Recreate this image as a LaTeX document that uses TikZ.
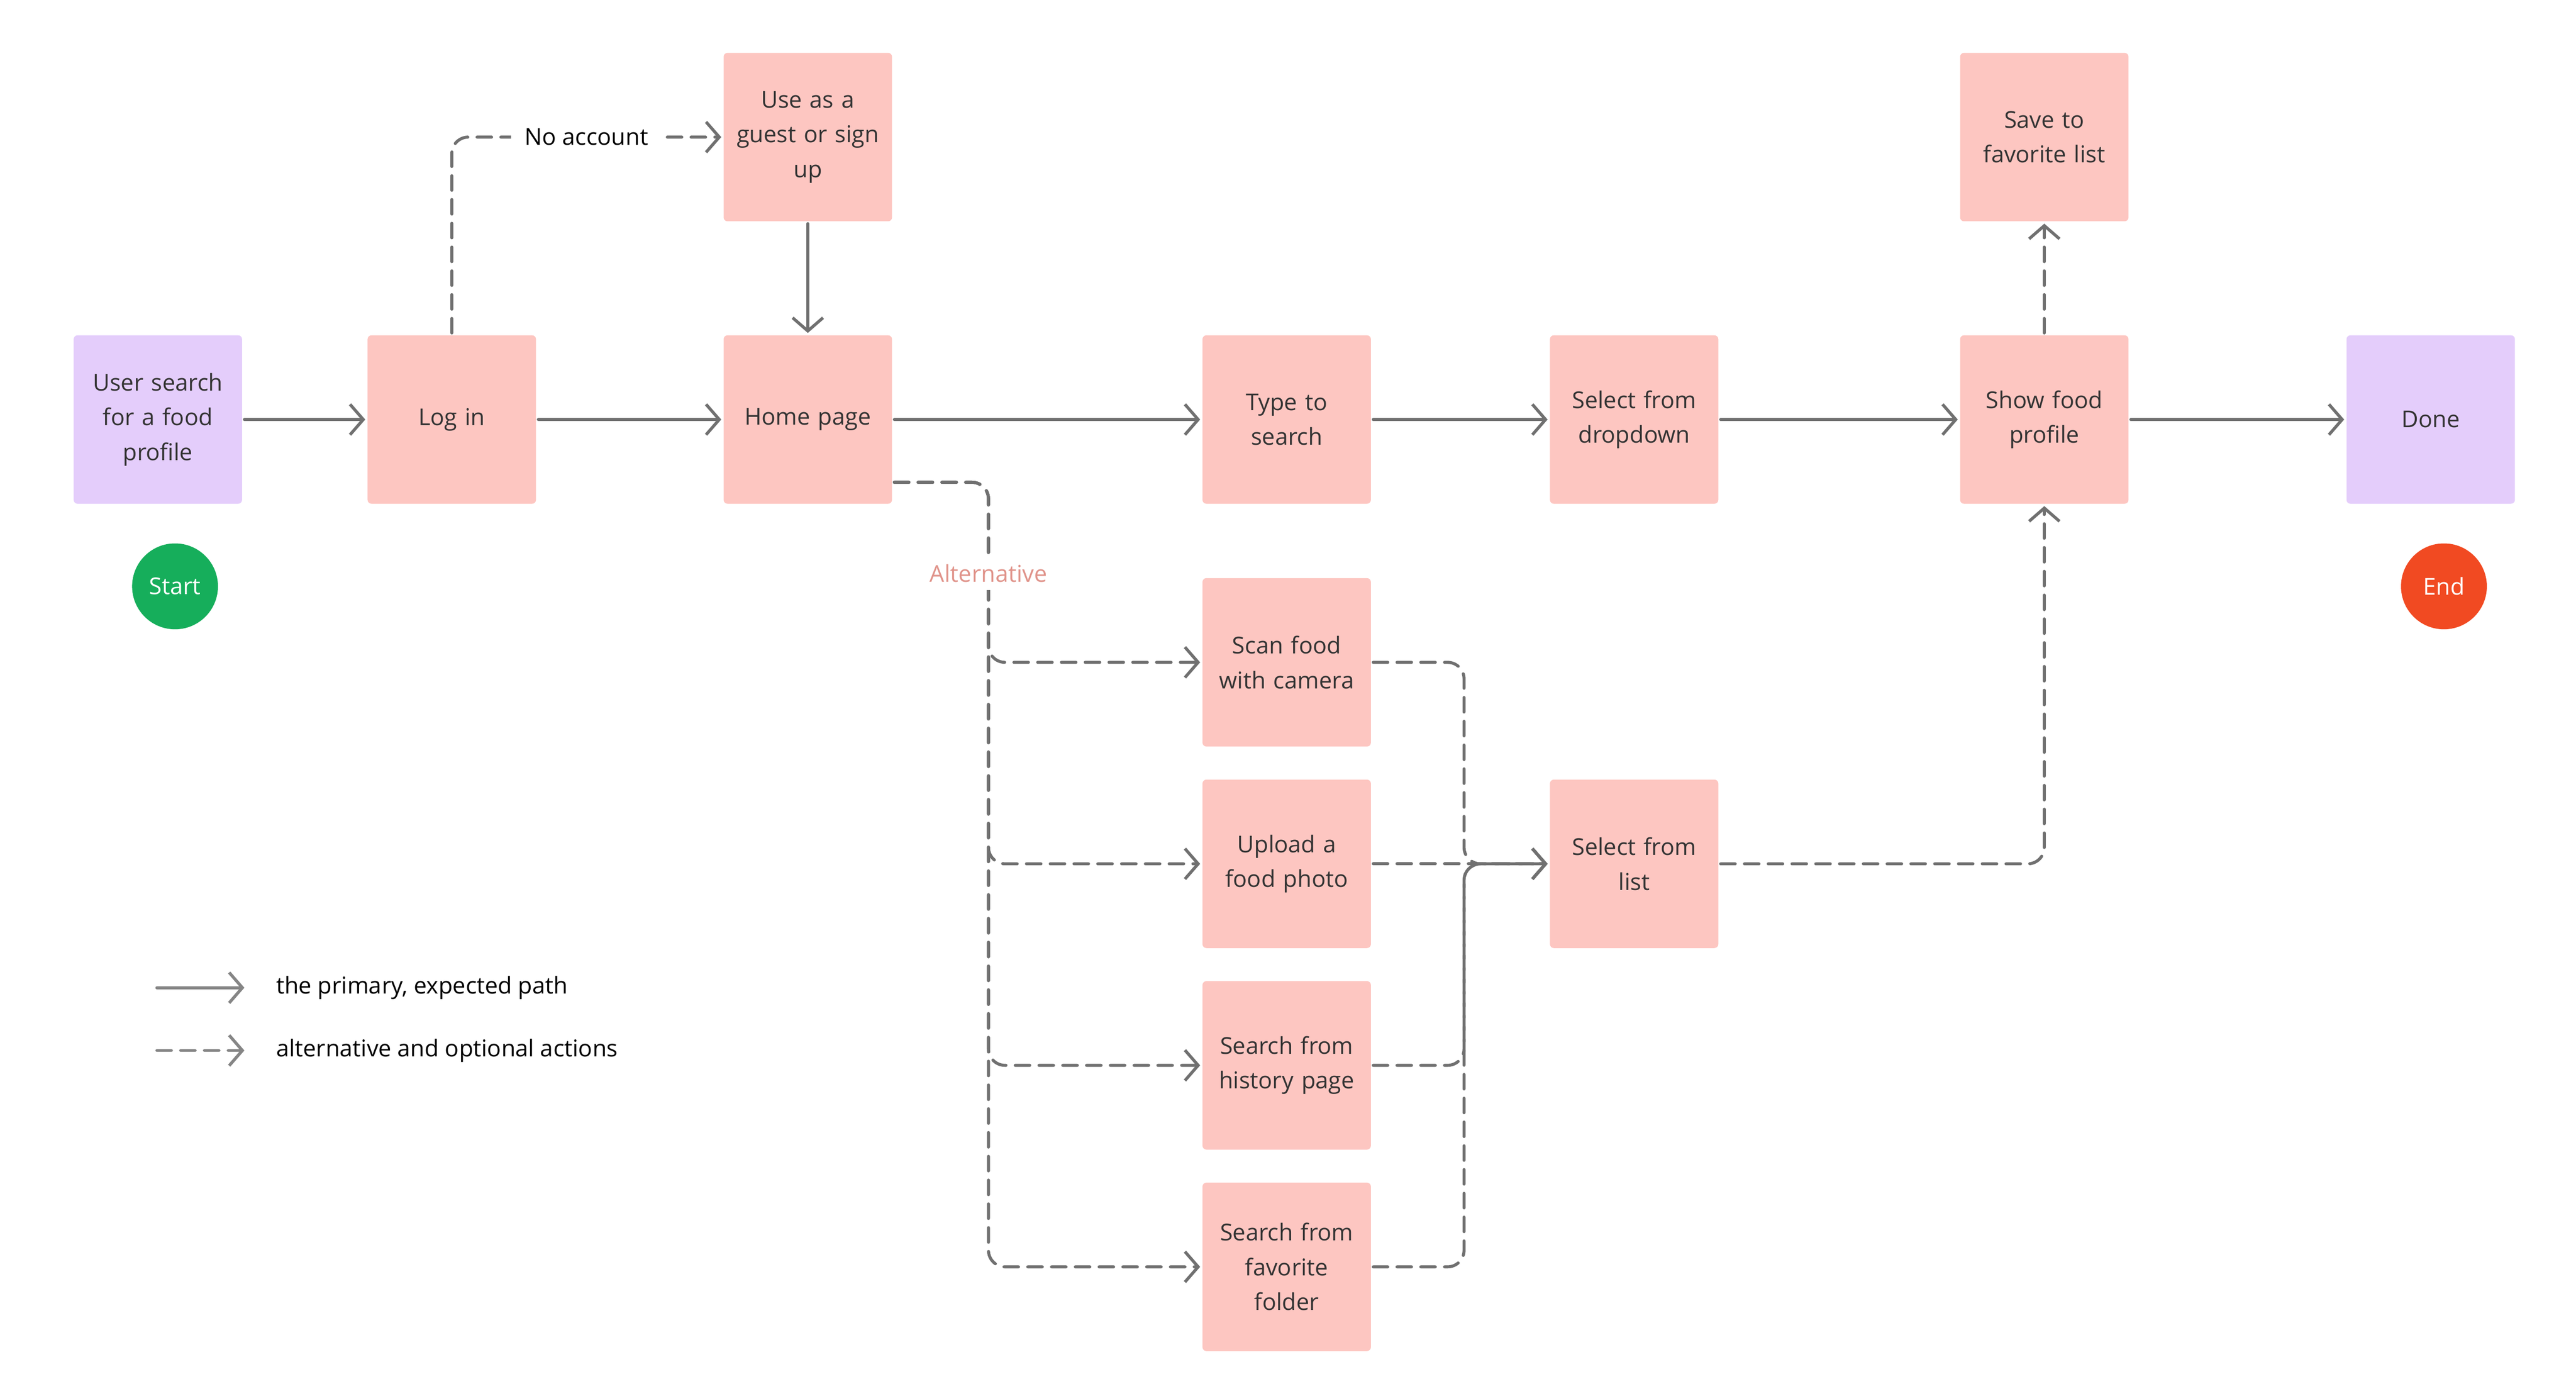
\documentclass[tikz,border=0pt]{standalone}
\usepackage{fontspec}
\setmainfont{Open Sans}
\usepackage{xcolor}
\usetikzlibrary{arrows.meta, positioning, shapes, calc}

\definecolor{boxpink}{HTML}{FDC6C1}
\definecolor{boxpurple}{HTML}{E4CDFB}
\definecolor{textdark}{HTML}{333333}
\definecolor{linegray}{HTML}{707070}
\definecolor{startgreen}{HTML}{16AE5B}
\definecolor{endred}{HTML}{F14A22}
\definecolor{altsalmon}{HTML}{E0938A}

\begin{document}
\begin{tikzpicture}[
    node distance=4.45cm,
    block/.style={rectangle, fill=boxpink, text=textdark, text width=2.3cm, align=center, rounded corners=0.6mm, minimum width=2.55cm, minimum height=2.55cm, outer sep=1pt, font=\fontsize{10}{15}\selectfont},
    endblock/.style={block, fill=boxpurple},
    terminal/.style={circle, minimum size=1.3cm, inner sep=0pt, text=white, font=\fontsize{10}{12}\selectfont},
    arrow/.style={line width=1.3pt, draw=linegray, line cap=round, -{Straight Barb[length=2mm,width=4.6mm]}},
    dasharrow/.style={arrow, dash pattern=on 2.2mm off 1.4mm, rounded corners=0.25cm},
    tag/.style={fill=white, inner xsep=6pt, font=\fontsize{10}{12}\selectfont}
]
\useasboundingbox (0,0) rectangle (39,-21.125);

% main row
\node[endblock] (user) at (2.39,-6.35) {User search\\for a food\\profile};
\node[block, right of=user] (login) {Log in};
\node[block, right of=login, node distance=5.39cm] (home) {Home page};
\node[block, above of=home, node distance=4.275cm] (guest) {Use as a\\guest or sign\\up};
\node[block, right of=home, node distance=7.25cm] (type) {Type to\\search};
\node[block, right of=type, node distance=5.26cm] (dropdown) {Select from\\dropdown};
\node[block, right of=dropdown, node distance=6.21cm] (show) {Show food\\profile};
\node[block, above of=show, node distance=4.275cm] (save) {Save to\\favorite list};
\node[endblock, right of=show, node distance=5.85cm] (done) {Done};

% alternatives
\node[block, below of=type, node distance=3.675cm] (scan) {Scan food\\with camera};
\node[block, below of=scan, node distance=3.05cm] (upload) {Upload a\\food photo};
\node[block, below of=upload, node distance=3.05cm] (history) {Search from\\history page};
\node[block, below of=history, node distance=3.05cm] (favfolder) {Search from\\favorite\\folder};
\node[block, right of=upload, node distance=5.26cm] (list) {Select from\\list};

\node[terminal, fill=startgreen, below of=user, node distance=2.525cm, xshift=0.26cm] (start) {Start};
\node[terminal, fill=endred, below of=done, node distance=2.525cm, xshift=0.2cm] (end) {End};

\draw[arrow] (user) -- (login);
\draw[arrow] (login) -- (home);
\draw[arrow] (guest) -- (home);
\draw[arrow] (home) -- (type);
\draw[arrow] (type) -- (dropdown);
\draw[arrow] (dropdown) -- (show);
\draw[arrow] (show) -- (done);

\draw[dasharrow] (login.north) |- node[tag, pos=0.75, text=black] {No account} (guest.west);
\draw[dasharrow] (show.north) -- (save.south);

\coordinate (altstart) at ([yshift=-0.95cm]home.east);
\foreach \t in {scan, upload, history, favfolder}
    \draw[dasharrow] (altstart) -- ++(1.425,0) |- (\t.west);
\node[tag, text=altsalmon, inner xsep=1pt] (altnote) at ($(altstart)+(1.425,-1.375)$) {Alternative};

\foreach \t in {scan, history, favfolder}
    \draw[dasharrow] (\t.east) -- ++(1.375,0) |- (list.west);
\draw[dasharrow] (upload) -- (list);
\draw[dasharrow] (list.east) -| (show.south);

% legend
\coordinate (legsolid) at (2.375,-14.95);
\coordinate (legsolidend) at (3.7,-14.95);
\coordinate (legdash) at (2.375,-15.9);
\coordinate (legdashend) at (3.7,-15.9);
\draw[arrow, draw=linegray!85] (legsolid) -- (legsolidend);
\draw[dasharrow, draw=linegray!85] (legdash) -- (legdashend);
\node[tag, anchor=west, inner xsep=0pt, right=0.475cm of legsolidend] (legsolidtext) {the primary, expected path};
\node[tag, anchor=west, inner xsep=0pt, right=0.475cm of legdashend] (legdashtext) {alternative and optional actions};
\end{tikzpicture}
\end{document}
